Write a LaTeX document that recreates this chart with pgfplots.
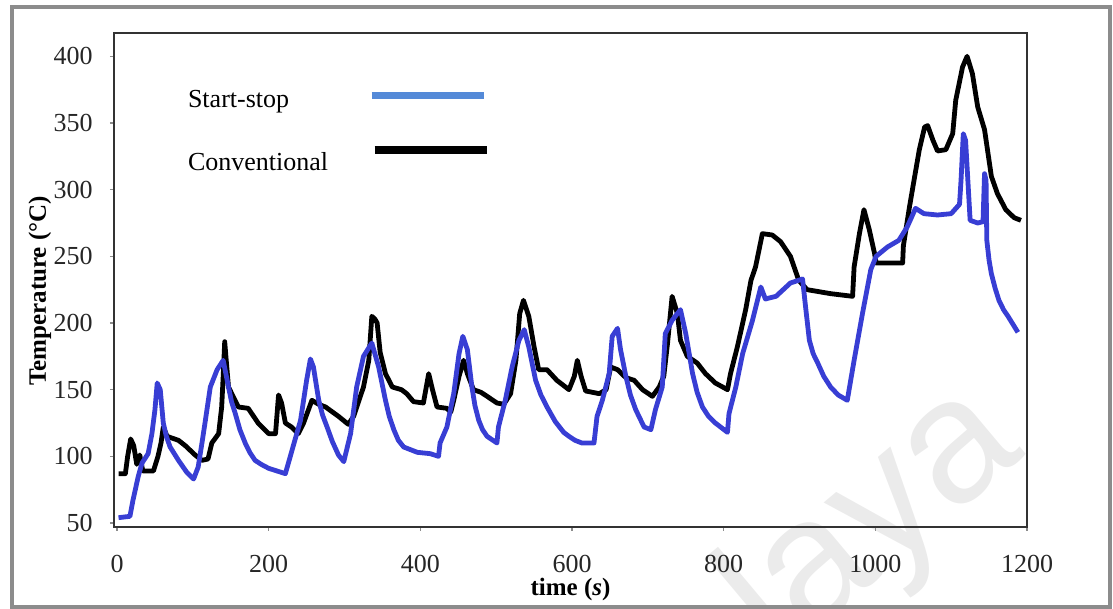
\documentclass[border=0pt]{standalone}
\usepackage{fontspec}
\setmainfont{Liberation Serif}
\newfontfamily\wmfont{Liberation Sans}
\usepackage{pgfplots}
\pgfplotsset{compat=1.18}
\definecolor{ssblue}{RGB}{56,62,212}
\definecolor{legblue}{RGB}{84,138,216}
\definecolor{framegray}{RGB}{140,140,140}

\begin{document}
\begin{tikzpicture}
\useasboundingbox (-57pt,-41pt) rectangle (499.5pt,263.5pt);
% faint watermark
\begin{scope}
\clip (-57pt,-41pt) rectangle (499.5pt,263.5pt);
\node[rotate=40, text=black!8, font=\wmfont\fontsize{88}{88}\selectfont] at (361pt,-14pt) {alaya};
\end{scope}
\draw[framegray, line width=2pt] (-51pt,-40pt) rectangle (498pt,260pt);

\begin{axis}[
  at={(0,0)}, anchor=south west,
  scale only axis, width=456.5pt, height=247pt,
  xmin=-4, xmax=1200, ymin=47, ymax=417.5,
  xtick={0,200,...,1200}, ytick={50,100,...,400},
  xtick pos=bottom, ytick pos=left,
  tick align=outside, major tick length=2pt,
  tick style={black!45, line width=0.6pt},
  axis line style={black!80, line width=1.1pt},
  /pgf/number format/assume math mode=true,
  /pgf/number format/1000 sep={},
  ticklabel style={font=\fontsize{13}{15}\selectfont, text=black!85, inner sep=0pt},
  yticklabel style={xshift=-8.5pt},
  xticklabel style={yshift=-12pt},
  xlabel={\textbf{time (\textit{s})}},
  ylabel={\textbf{Temperature (°C)}},
  label style={font=\bfseries\fontsize{12.5}{15}\selectfont},
  xlabel style={at={(axis description cs:0.5,-0.1275)}, anchor=center},
  ylabel style={at={(axis description cs:-0.0811,0.4777)}, anchor=center},
  legend style={draw=none, fill=none, at={(axis description cs:0.0811,0.8846)},
    anchor=north west, inner sep=0pt, outer sep=0pt, row sep=16pt, column sep=20pt,
    font=\fontsize{13}{15}\selectfont,
    nodes={inner sep=0pt, text height=9pt, text depth=3pt}},
  legend cell align=left,
  legend plot pos=right,
]
\addlegendimage{legend image code/.code={\draw[legblue, line width=3.5pt] (0pt,3pt) -- (56pt,3pt);}}
\addlegendentry{Start-stop}
\addlegendimage{legend image code/.code={\draw[black, line width=3.8pt] (1.5pt,7.5pt) -- (57.5pt,7.5pt);}}
\addlegendentry{Conventional}

% Conventional
\addplot[black, line width=2.4pt, line join=round, forget plot] coordinates {
(2,87) (11,87) (14,100) (18,113) (22,108) (26,94) (30,101) (34,89) (48,89) (54,100)
(58,110) (61,122) (66,115) (81,112) (90,108) (103,101) (112,97) (120,98) (125,110)
(134,117) (138,137) (140,160) (142,186) (144,172) (147,152) (153,145) (160,137)
(173,136) (186,125) (200,117) (209,117) (213,146) (217,140) (222,125) (230,122)
(239,117) (246,125) (257,142) (266,139) (275,137) (292,130) (305,124) (312,130)
(325,152) (332,172) (336,205) (340,203) (343,200) (347,178) (354,162) (363,152)
(375,150) (382,147) (391,141) (404,140) (411,162) (416,150) (422,137) (435,136)
(440,133) (444,142) (451,160) (457,172) (462,162) (470,150) (480,148) (488,145)
(501,140) (510,139) (519,147) (526,172) (531,207) (536,217) (543,205) (550,182)
(556,165) (567,165) (580,157) (596,150) (603,160) (607,172) (612,160) (618,149)
(636,147) (645,150) (651,167) (660,165) (671,159) (682,157) (693,150) (706,145)
(715,152) (721,160) (726,185) (732,220) (739,207) (743,187) (752,175) (765,170)
(776,162) (789,155) (805,150) (809,162) (818,182) (829,210) (836,232) (842,242)
(851,267) (864,266) (875,261) (888,250) (899,232) (910,225) (941,222) (970,220)
(972,242) (979,267) (985,285) (992,270) (999,252) (1001,245) (1036,245) (1037,258)
(1045,287) (1051,307) (1058,330) (1065,347) (1069,348) (1076,337) (1082,329)
(1093,330) (1102,342) (1106,367) (1115,392) (1121,400) (1128,387) (1135,362)
(1144,345) (1153,310) (1161,297) (1172,285) (1183,279) (1192,277)
};

% Start-stop
\addplot[ssblue, line width=2.4pt, line join=round, forget plot] coordinates {
(2,54) (17,55) (21,67) (28,85) (33,95) (41,102) (46,117) (50,135) (53,155) (57,150)
(61,125) (65,115) (70,107) (81,97) (92,88) (101,83) (107,92) (112,110) (116,125) (123,152)
(132,165) (140,172) (147,152) (151,141) (156,132) (162,120) (169,110) (175,103) (182,97) (190,94) (200,91) (211,89) (222,87)
(231,105) (242,127) (250,157) (255,173) (259,167) (266,142) (271,131) (277,122) (284,111) (292,101)
(299,96) (308,117) (316,152) (325,175) (336,185) (345,167) (354,142) (359,130) (365,120) (371,112)
(378,107) (387,105) (396,103) (413,102) (424,100) (426,110) (435,122) (444,147) (451,177)
(456,190) (462,180) (468,152) (472,138) (477,127) (482,120) (488,115) (501,110) (503,122) (512,142)
(521,167) (530,187) (537,195) (543,182) (552,157) (559,146) (567,137) (578,126) (589,118)
(596,115) (604,112) (613,110) (629,110) (633,130) (640,142) (649,162) (653,190) (660,196)
(664,180) (671,160) (677,146) (684,135) (695,122) (704,120) (710,135) (719,152) (723,192)
(732,202) (743,210) (750,192) (759,162) (765,148) (772,137) (780,130) (789,125) (805,118) (807,132)
(816,152) (825,177) (838,202) (849,227) (855,218) (869,220) (888,230) (904,233)
(908,212) (913,187) (918,177) (924,170) (932,160) (941,152) (951,146) (963,142) (972,172) (983,207) (994,240)
(1001,250) (1016,257) (1031,262) (1042,272) (1053,286) (1064,282) (1082,281)
(1100,282) (1111,289) (1113,307) (1116,342) (1119,337) (1122,307) (1125,277)
(1135,275) (1142,276) (1144,312) (1146,307) (1147,262) (1150,247) (1153,237) (1158,226) (1163,217)
(1169,210) (1175,205) (1188,193)
};
\end{axis}
\end{tikzpicture}
\end{document}
